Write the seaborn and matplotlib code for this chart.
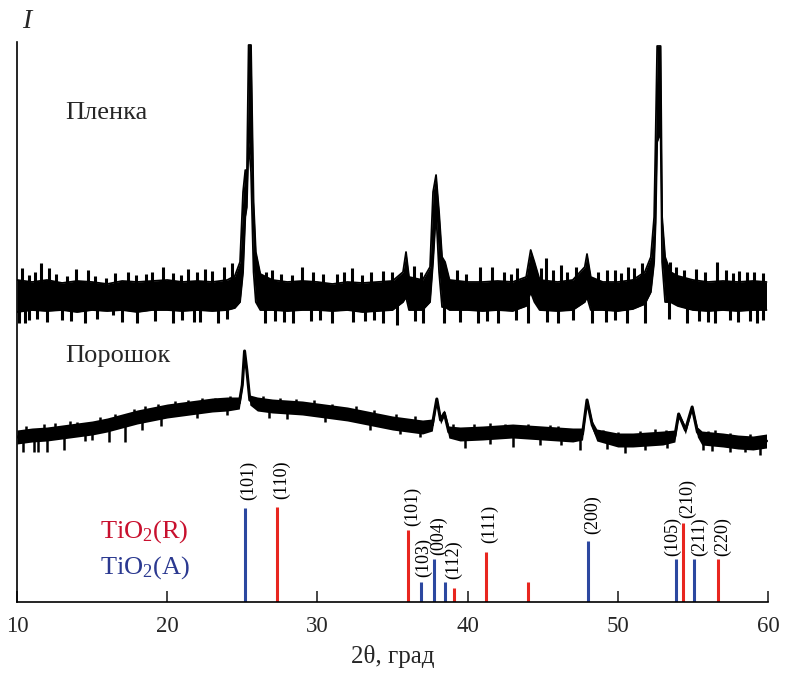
import matplotlib
matplotlib.use("Agg")
import matplotlib.pyplot as plt
import numpy as np
import pandas as pd
import seaborn as sns

# intensity in arbitrary units (0 = axis line, 560 = top of axis)
film_x = [10.0, 11, 12, 13, 14, 15, 16, 17, 18, 19, 20, 21, 22, 23, 24, 24.5, 24.85, 25.05, 25.2, 25.3,
          25.42, 25.58, 25.75, 25.9, 26.2, 27, 28, 29, 30, 31, 32, 33, 34, 35, 35.7, 35.9, 36.1, 37,
          37.5, 37.7, 37.9, 38.1, 38.3, 38.5, 38.8, 40, 41, 42, 43, 43.9, 44.2, 44.45, 44.8, 46, 47,
          47.8, 47.95, 48.2, 49, 50, 51, 51.8, 52.2, 52.42, 52.52, 52.62, 52.85, 52.95, 53.15, 53.5,
          54, 55, 56, 57, 58, 59, 59.9]
film_hi = [322, 320, 322, 319, 321, 320, 318, 321, 320, 321, 322, 320, 321, 320, 322, 326, 340, 410, 432, 420,
           557, 557, 400, 350, 328, 322, 320, 321, 320, 318, 320, 319, 320, 321, 330, 350, 325, 322,
           335, 410, 427, 390, 345, 340, 322, 320, 320, 321, 320, 325, 352, 340, 322, 320, 322,
           335, 348, 325, 320, 320, 322, 330, 345, 385, 467, 556, 556, 385, 345, 330,
           326, 322, 320, 321, 320, 321, 320]
film_lo = [290, 292, 291, 292, 290, 292, 291, 292, 290, 292, 292, 291, 292, 291, 292, 294, 300, 330, 385, 395,
           460, 430, 330, 300, 292, 292, 291, 292, 292, 291, 292, 290, 291, 292, 300, 305, 292, 292,
           300, 340, 390, 330, 295, 295, 292, 292, 291, 292, 291, 296, 310, 300, 292, 291, 292,
           300, 305, 292, 292, 291, 293, 298, 310, 340, 380, 460, 470, 340, 300, 300,
           296, 292, 291, 292, 291, 292, 292]
film_up_x = [10.3, 10.8, 11.2, 11.6, 12.1, 12.6, 13.3, 13.9, 14.7, 15.2, 15.9, 16.5, 17.4, 17.9, 18.6,
             19.0, 19.7, 20.4, 20.9, 21.4, 22.0, 22.5, 23.0, 23.8, 24.3, 26.6, 27.0, 27.6, 28.3, 29.0,
             29.7, 30.4, 31.3, 31.8, 32.3, 33.0, 33.6, 34.4, 35.0, 36.4, 36.9, 39.3, 39.9, 40.8, 41.6,
             42.4, 42.9, 43.3, 44.9, 45.2, 45.7, 46.2, 46.6, 47.2, 48.7, 49.3, 49.8, 50.2, 50.7, 51.1,
             51.6, 53.5, 53.9, 54.4, 55.2, 55.8, 56.6, 57.2, 57.7, 58.1, 58.6, 59.1, 59.7]
film_up_y = [334, 327, 330, 339, 334, 328, 326, 333, 332, 326, 324, 329, 330, 327, 328,
             330, 335, 329, 327, 333, 330, 333, 331, 335, 339, 330, 332, 328, 327, 335,
             330, 328, 328, 330, 334, 327, 330, 331, 330, 336, 330, 332, 328, 335, 335,
             330, 328, 334, 334, 344, 332, 337, 330, 335, 330, 332, 332, 329, 335, 334,
             339, 340, 335, 332, 333, 330, 340, 332, 329, 331, 330, 330, 329]
film_dn_x = [10.1, 10.5, 10.8, 11.3, 12.0, 13.0, 13.6, 14.5, 15.3, 16.4, 17.0, 18.0, 19.2, 20.4, 21.0,
             21.8, 22.2, 23.4, 24.0, 26.5, 27.2, 27.8, 28.4, 29.6, 30.2, 31.0, 32.4, 33.2, 33.8, 34.4,
             35.3, 36.5, 37.0, 38.4, 39.5, 40.7, 41.3, 42.0, 43.2, 44.0, 45.3, 46.0, 47.0, 48.3, 49.2,
             49.8, 50.6, 51.8, 53.4, 54.6, 55.4, 56.0, 56.5, 57.5, 58.0, 58.8, 59.3, 59.7]
film_dn_y = [279, 279, 282, 283, 280, 282, 281, 279, 283, 287, 280, 279, 281, 279, 282,
             280, 280, 279, 283, 279, 281, 280, 279, 281, 282, 279, 280, 281, 282, 279,
             277, 281, 279, 279, 280, 279, 281, 279, 282, 279, 280, 279, 282, 279, 280,
             282, 279, 279, 283, 279, 281, 280, 279, 282, 280, 281, 279, 282]

powder_x = [10.0, 11, 12, 13, 14, 15, 16, 17, 18, 19, 20, 21, 22, 23, 24, 24.8, 25.0, 25.15, 25.3, 25.5,
            26, 27, 28, 29, 30, 31, 32, 33, 34, 35, 36, 37, 37.65, 37.95, 38.2, 38.45, 38.75, 39.5,
            41, 43, 45, 47, 47.65, 47.95, 48.3, 48.6, 50, 51, 52, 53, 53.8, 54.05, 54.5, 54.95,
            55.3, 55.6, 57, 58, 59, 59.9]
powder_y = [165, 167, 168, 170, 172, 174, 177, 181, 185, 188, 191, 193, 195, 197, 198, 199, 217, 251, 232, 202,
            198, 196, 195, 194, 192, 190, 188, 185, 182, 179, 177, 175, 177, 203, 182, 189, 170, 168,
            169, 171, 169, 167, 168, 202, 177, 167, 162, 162, 163, 164, 166, 188, 172, 195,
            170, 164, 162, 160, 159, 161]
powder_hw = [7, 7, 7, 7, 7, 7, 7, 7, 7, 7, 7, 7, 7, 7, 7, 6, 3, 2, 3, 5,
             7, 7, 7, 7, 7, 7, 7, 7, 7, 7, 7, 7, 6, 2, 4, 3, 6, 7,
             7, 7, 7, 7, 6, 2, 4, 6, 7, 7, 7, 7, 6, 2, 4, 2,
             5, 7, 7, 7, 7, 7]
powder_up_x = [10.6, 11.8, 12.5, 13.5, 14.0, 15.5, 16.5, 17.8, 18.5, 19.4, 20.5, 21.4, 22.3, 23.2, 24.2,
               26.4, 27.5, 28.6, 29.8, 31.0, 32.6, 33.8, 35.2, 36.5, 39.0, 40.4, 41.5, 42.5, 44.0, 45.5,
               46.0, 49.0, 50.0, 51.5, 52.5, 53.2, 56.0, 56.5, 57.5, 58.8]
powder_up_y = [176, 178, 179, 181, 180, 185, 188, 193, 196, 198, 201, 202, 204, 204, 206,
               206, 204, 203, 202, 198, 196, 192, 188, 186, 178, 178, 179, 178, 178, 177,
               176, 172, 170, 171, 173, 172, 171, 172, 169, 168]
powder_dn_x = [10.4, 11.1, 11.4, 12.0, 13.1, 14.5, 15.0, 16.1, 17.2, 18.3, 19.6, 22.0, 24.0, 26.8, 28.0,
               30.5, 33.5, 35.5, 36.8, 39.8, 41.5, 43.0, 44.8, 46.2, 47.5, 49.3, 50.5, 51.8, 53.3, 55.7,
               56.3, 57.5, 58.5, 59.5]
powder_dn_y = [150, 150, 150, 150, 152, 161, 162, 160, 160, 172, 176, 184, 187, 184, 183,
               180, 172, 168, 165, 154, 158, 155, 157, 157, 152, 153, 149, 152, 154, 152,
               151, 150, 150, 147]

# stick patterns
rutile_pos = [27.3, 36.0, 39.1, 41.2, 44.0, 54.35, 56.65]
rutile_int = [95, 72, 14, 50, 20, 79, 43]
anatase_pos = [25.15, 36.9, 37.75, 38.5, 48.0, 53.9, 55.1]
anatase_int = [94, 20, 43, 20, 61, 43, 43]

hkl_labels = ["(101)", "(110)", "(101)", "(103)", "(004)", "(112)", "(111)",
              "(200)", "(105)", "(210)", "(211)", "(220)"]
hkl_x = [25.4, 27.6, 36.35, 37.05, 38.1, 39.1, 41.45, 48.3, 53.65, 54.65, 55.45, 57.0]
hkl_y = [102, 103, 76, 25, 47, 23, 59, 68, 46, 84, 46, 46]

RED = "#e8261f"
BLUE = "#2c48a0"

sns.set_theme(style="white")
plt.rcParams["font.family"] = ["Liberation Serif", "DejaVu Serif"]
plt.rcParams["mathtext.fontset"] = "custom"
plt.rcParams["mathtext.rm"] = "Liberation Serif"
plt.rcParams["mathtext.it"] = "Liberation Serif:italic"

fig = plt.figure(figsize=(7.87, 6.74), dpi=100)
ax = fig.add_axes([17 / 787, 72 / 674, 751 / 787, 560 / 674])

# film trace
ax.fill_between(film_x, film_lo, film_hi, color="black", lw=0)
sns.lineplot(x=film_x, y=film_hi, ax=ax, color="black", lw=1.3, sort=False, estimator=None)
sns.lineplot(x=film_x, y=film_lo, ax=ax, color="black", lw=1.3, sort=False, estimator=None)
ax.vlines(film_up_x, 305, film_up_y, color="black", lw=2.2)
ax.vlines(film_dn_x, 305, film_dn_y, color="black", lw=2.2)

# powder trace
p_y = np.array(powder_y)
p_hw = np.array(powder_hw)
ax.fill_between(powder_x, p_y - p_hw, p_y + p_hw, color="black", lw=0)
sns.lineplot(x=powder_x, y=powder_y, ax=ax, color="black", lw=2.2, sort=False, estimator=None)
ax.vlines(powder_up_x, np.interp(powder_up_x, powder_x, powder_y), powder_up_y, color="black", lw=1.8)
ax.vlines(powder_dn_x, np.interp(powder_dn_x, powder_x, powder_y), powder_dn_y, color="black", lw=1.8)

# reference sticks
ax.vlines(rutile_pos, 0, rutile_int, color=RED, lw=2.2)
ax.vlines(anatase_pos, 0, anatase_int, color=BLUE, lw=2.2)
for lab, x, y in zip(hkl_labels, hkl_x, hkl_y):
    ax.text(x, y, lab, rotation=90, ha="center", va="bottom", fontsize=13, color="black")

ax.text(13.2, 489, "Пленка", fontsize=19, va="center", ha="left")
ax.text(13.2, 246, "Порошок", fontsize=19, va="center", ha="left")
ax.text(15.5, 70, "TiO$_2$(R)", fontsize=19, va="center", ha="left", color="#c8102e")
ax.text(15.5, 34, "TiO$_2$(A)", fontsize=19, va="center", ha="left", color="#2b3990")

ax.set_xlim(10, 60)
ax.set_ylim(0, 560)
ax.set_xticks([10, 20, 30, 40, 50, 60])
ax.set_yticks([])
ax.tick_params(axis="x", direction="in", length=8, width=1.2, labelsize=16.5, pad=10, bottom=True)
for side in ["top", "right"]:
    ax.spines[side].set_visible(False)
for side in ["left", "bottom"]:
    ax.spines[side].set_color("black")
    ax.spines[side].set_linewidth(1.2)
ax.set_xlabel("2θ, град", fontsize=18, labelpad=6)
fig.text(22 / 787, 1 - 22 / 674, "I", fontsize=20, style="italic", ha="left", va="center")

fig.savefig("out.png", dpi=100)
